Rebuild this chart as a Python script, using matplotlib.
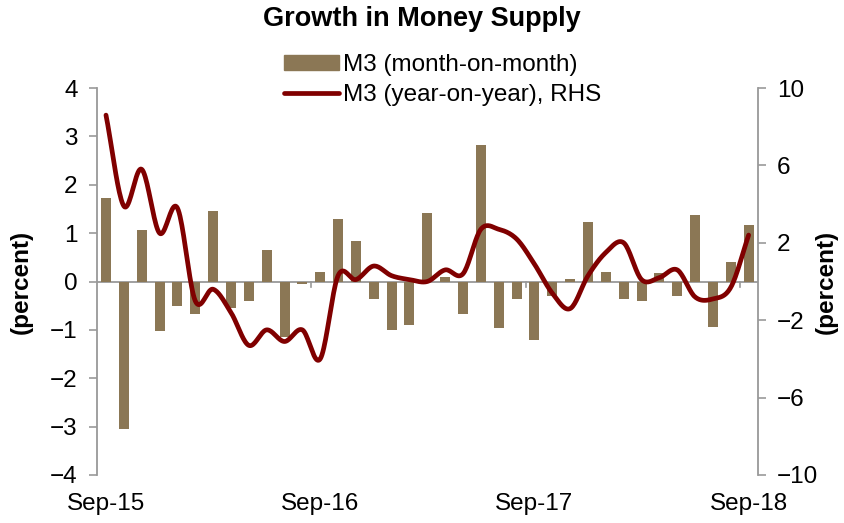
import numpy as np
import matplotlib
matplotlib.use("Agg")
import matplotlib.pyplot as plt
from matplotlib.patches import Patch
from matplotlib.lines import Line2D

plt.rcParams['font.family'] = ['Liberation Sans', 'DejaVu Sans']

months = ["Sep-15", "Oct-15", "Nov-15", "Dec-15", "Jan-16", "Feb-16", "Mar-16", "Apr-16",
          "May-16", "Jun-16", "Jul-16", "Aug-16", "Sep-16", "Oct-16", "Nov-16", "Dec-16",
          "Jan-17", "Feb-17", "Mar-17", "Apr-17", "May-17", "Jun-17", "Jul-17", "Aug-17",
          "Sep-17", "Oct-17", "Nov-17", "Dec-17", "Jan-18", "Feb-18", "Mar-18", "Apr-18",
          "May-18", "Jun-18", "Jul-18", "Aug-18", "Sep-18"]

mom = [1.72, -3.05, 1.06, -1.02, -0.50, -0.67, 1.45, -0.54, -0.41, 0.65, -1.15, -0.05,
       0.19, 1.29, 0.83, -0.36, -1.00, -0.90, 1.41, 0.10, -0.67, 2.82, -0.96, -0.37,
       -1.21, -0.30, 0.05, 1.23, 0.19, -0.36, -0.40, 0.17, -0.31, 1.38, -0.95, 0.41, 1.16]

yoy = [8.6, 3.9, 5.8, 2.5, 3.8, -1.0, -0.4, -1.6, -3.3, -2.5, -3.1, -2.5,
       -4.0, 0.3, 0.1, 0.8, 0.3, 0.1, 0.0, 0.6, 0.4, 2.7, 2.7, 2.2,
       0.9, -0.6, -1.4, 0.3, 1.5, 2.0, 0.1, 0.2, 0.6, -0.8, -0.9, -0.3, 2.4]

tick_labels = ["Sep-15", "Sep-16", "Sep-17", "Sep-18"]

BAR_C = "#8B7755"
LINE_C = "#800000"
GRAY = "#999999"
FS = 17.5


def catmull_rom(x, y, n=20):
    x = np.asarray(x, float)
    y = np.asarray(y, float)
    px = np.concatenate([[2 * x[0] - x[1]], x, [2 * x[-1] - x[-2]]])
    py = np.concatenate([[2 * y[0] - y[1]], y, [2 * y[-1] - y[-2]]])
    xs, ys = [], []
    for i in range(1, len(px) - 2):
        t = np.linspace(0, 1, n, endpoint=False)
        for p, out in ((px, xs), (py, ys)):
            p0, p1, p2, p3 = p[i - 1], p[i], p[i + 1], p[i + 2]
            out.append(0.5 * ((2 * p1) + (-p0 + p2) * t +
                              (2 * p0 - 5 * p1 + 4 * p2 - p3) * t ** 2 +
                              (-p0 + 3 * p1 - 3 * p2 + p3) * t ** 3))
    xs.append([x[-1]])
    ys.append([y[-1]])
    return np.concatenate(xs), np.concatenate(ys)


fig = plt.figure(figsize=(8.44, 5.23), dpi=100)
ax = fig.add_axes([0.115, 0.0918, 0.7826, 0.7399])
ax2 = ax.twinx()

x = np.arange(len(months))
ax.bar(x, mom, width=0.56, color=BAR_C, zorder=2)
ax.axhline(0, color=GRAY, lw=1.3, zorder=1)

sx, sy = catmull_rom(x, yoy)
ax2.plot(sx, sy, color=LINE_C, lw=3.4, solid_capstyle='round', zorder=3)

ax.set_xlim(-0.5, len(months) - 0.5)
ax.set_ylim(-4, 4)
ax.set_yticks(range(-4, 5))
ax2.set_ylim(-10, 10)
ax2.set_yticks([-10, -6, -2, 2, 6, 10])

# x labels at Sep months, tick marks at year boundaries on zero line
ax.set_xticks([0, 12, 24, 36])
ax.set_xticklabels(tick_labels, fontsize=FS)
ax.tick_params(axis='x', length=0, pad=13)
for b in [11.5, 23.5, 35.5]:
    ax.plot([b, b], [0, -0.12], color=GRAY, lw=1.2, zorder=1, clip_on=False)

for a in (ax, ax2):
    for s in ('top', 'bottom'):
        a.spines[s].set_visible(False)
ax.spines['right'].set_visible(False)
ax2.spines['left'].set_visible(False)
ax.spines['left'].set_color(GRAY)
ax2.spines['right'].set_color(GRAY)
ax.spines['left'].set_linewidth(1.3)
ax2.spines['right'].set_linewidth(1.3)

ax.tick_params(axis='y', colors=GRAY, labelcolor='black', labelsize=FS, length=6, width=1.2, pad=8)
ax2.tick_params(axis='y', colors=GRAY, labelcolor='black', labelsize=FS, length=6, width=1.2, pad=8)

ax.set_ylabel("(percent)", fontsize=FS, fontweight='bold')
ax2.set_ylabel("(percent)", fontsize=FS, fontweight='bold', rotation=90)
ax.yaxis.set_label_coords(-0.098, 0.5)
ax2.yaxis.set_label_coords(1.087, 0.5)

fig.text(0.5, 0.963, "Growth in Money Supply", ha='center', va='center',
         fontsize=19.5, fontweight='bold')

handles = [Patch(color=BAR_C), Line2D([0], [0], color=LINE_C, lw=3.4, solid_capstyle='round')]
labels = ["M3 (month-on-month)", "M3 (year-on-year), RHS"]
fig.legend(handles, labels, loc='upper left', bbox_to_anchor=(0.336, 0.897), frameon=False,
           fontsize=FS, handlelength=2.3, handleheight=0.6, handletextpad=0.15,
           labelspacing=0.32, borderpad=0, borderaxespad=0)

fig.savefig("out.png", dpi=100)
